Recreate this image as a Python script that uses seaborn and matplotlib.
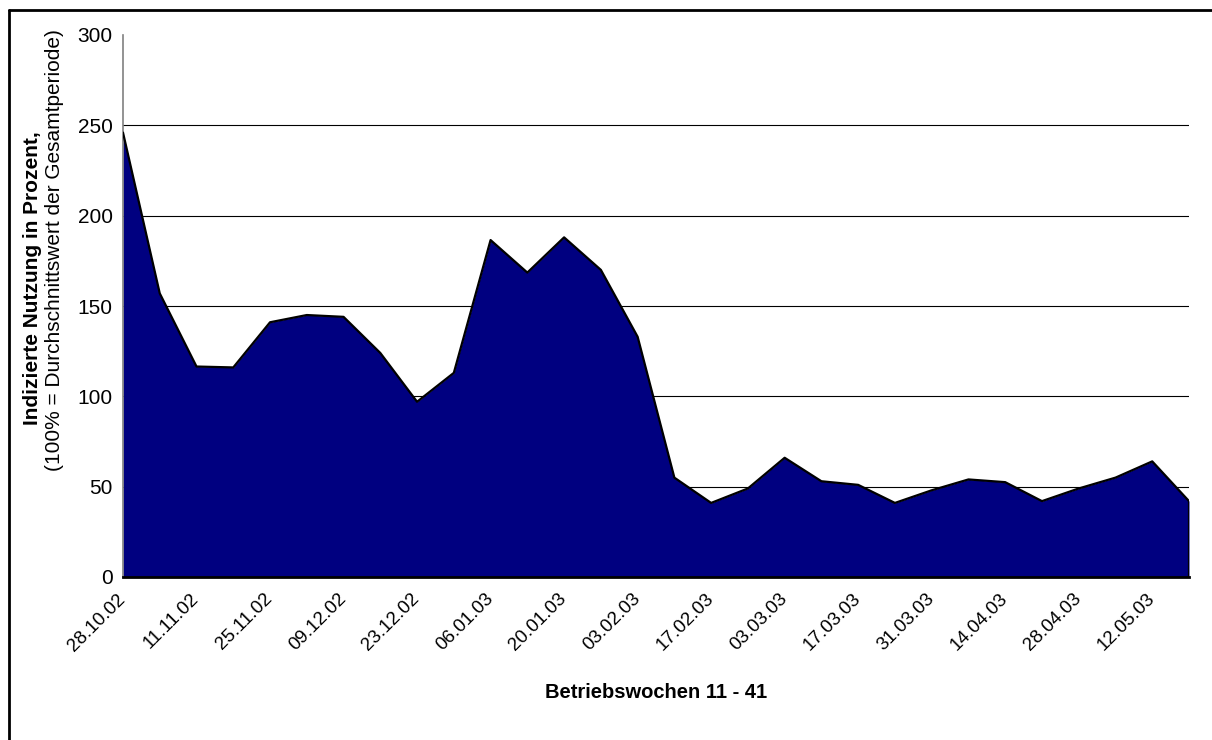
import matplotlib
matplotlib.use("Agg")
import matplotlib.pyplot as plt
from matplotlib.lines import Line2D
import numpy as np
import pandas as pd
import seaborn as sns

# Weekly usage index (percent of the period average), weeks starting 28.10.02
week_index = list(range(30))
usage_pct = [246, 157, 116.5, 116, 141, 145, 144, 124, 97, 113,
             186.5, 168.5, 188, 170, 133, 55, 41, 49, 66, 53,
             51, 41, 48, 54, 52.5, 42, 49, 55, 64, 42]
tick_labels = ["28.10.02", "11.11.02", "25.11.02", "09.12.02", "23.12.02",
               "06.01.03", "20.01.03", "03.02.03", "17.02.03", "03.03.03",
               "17.03.03", "31.03.03", "14.04.03", "28.04.03", "12.05.03"]
y_ticks = [0, 50, 100, 150, 200, 250, 300]

df = pd.DataFrame({"week": week_index, "usage": usage_pct})

sns.set_theme(style="white")
plt.rcParams["font.family"] = ["Liberation Sans", "DejaVu Sans"]
plt.rcParams["text.color"] = "black"

W, H = 1212, 740
fig = plt.figure(figsize=(W / 100, H / 100), dpi=100)
fig.patch.set_facecolor("white")
ax = fig.add_axes([123 / W, 1 - 577 / H, (1189 - 123) / W, (577 - 35) / H])
ax.set_facecolor("white")

# horizontal grid behind the area
for v in y_ticks[1:-1]:
    ax.axhline(v, color="black", lw=0.8, zorder=1)

ax.fill_between(df["week"], 0, df["usage"], color="#000080", lw=0, zorder=2)
sns.lineplot(data=df, x="week", y="usage", color="black", lw=1.6,
             ax=ax, zorder=3)
# closing outline along the right edge
ax.plot([df["week"].iloc[-1], df["week"].iloc[-1]], [0, df["usage"].iloc[-1]],
        color="black", lw=1.6, zorder=3)

ax.set_xlim(df["week"].min(), df["week"].max())
ax.set_ylim(0, 300)
ax.set_yticks(y_ticks)
ax.set_yticklabels([str(v) for v in y_ticks], fontsize=15, color="black")
ax.set_xticks(week_index[::2])
ax.set_xticklabels(tick_labels, rotation=45, ha="right", va="center",
                   rotation_mode="anchor", fontsize=13.5, color="black")
ax.tick_params(axis="both", direction="out", length=5, width=1,
               color="#808080")
ax.tick_params(axis="y", pad=2.5)
ax.tick_params(axis="x", pad=9)

for side in ["top", "right"]:
    ax.spines[side].set_visible(False)
ax.spines["left"].set_color("#808080")
ax.spines["left"].set_linewidth(1.2)
ax.spines["bottom"].set_color("black")
ax.spines["bottom"].set_linewidth(2)
ax.spines["bottom"].set_zorder(4)

ax.set_xlabel("")
ax.set_ylabel("")
fig.text(656 / W, 1 - 692 / H, "Betriebswochen 11 - 41", ha="center",
         va="center", fontsize=14.5, fontweight="bold", color="black")
fig.text(33 / W, 1 - 278 / H, "Indizierte Nutzung in Prozent,", rotation=90,
         ha="center", va="center", fontsize=15, fontweight="bold",
         color="black")
fig.text(55 / W, 1 - 250 / H, "(100% = Durchschnittswert der Gesamtperiode)",
         rotation=90, ha="center", va="center", fontsize=15, color="black")

# outer chart frame (left and top edges)
fig.add_artist(Line2D([9 / W, 9 / W], [0, 1 - 10 / H], color="black",
                      lw=2, transform=fig.transFigure))
fig.add_artist(Line2D([9 / W, 1], [1 - 10 / H, 1 - 10 / H], color="black",
                      lw=2, transform=fig.transFigure))

fig.savefig("out.png", dpi=100, facecolor="white")
